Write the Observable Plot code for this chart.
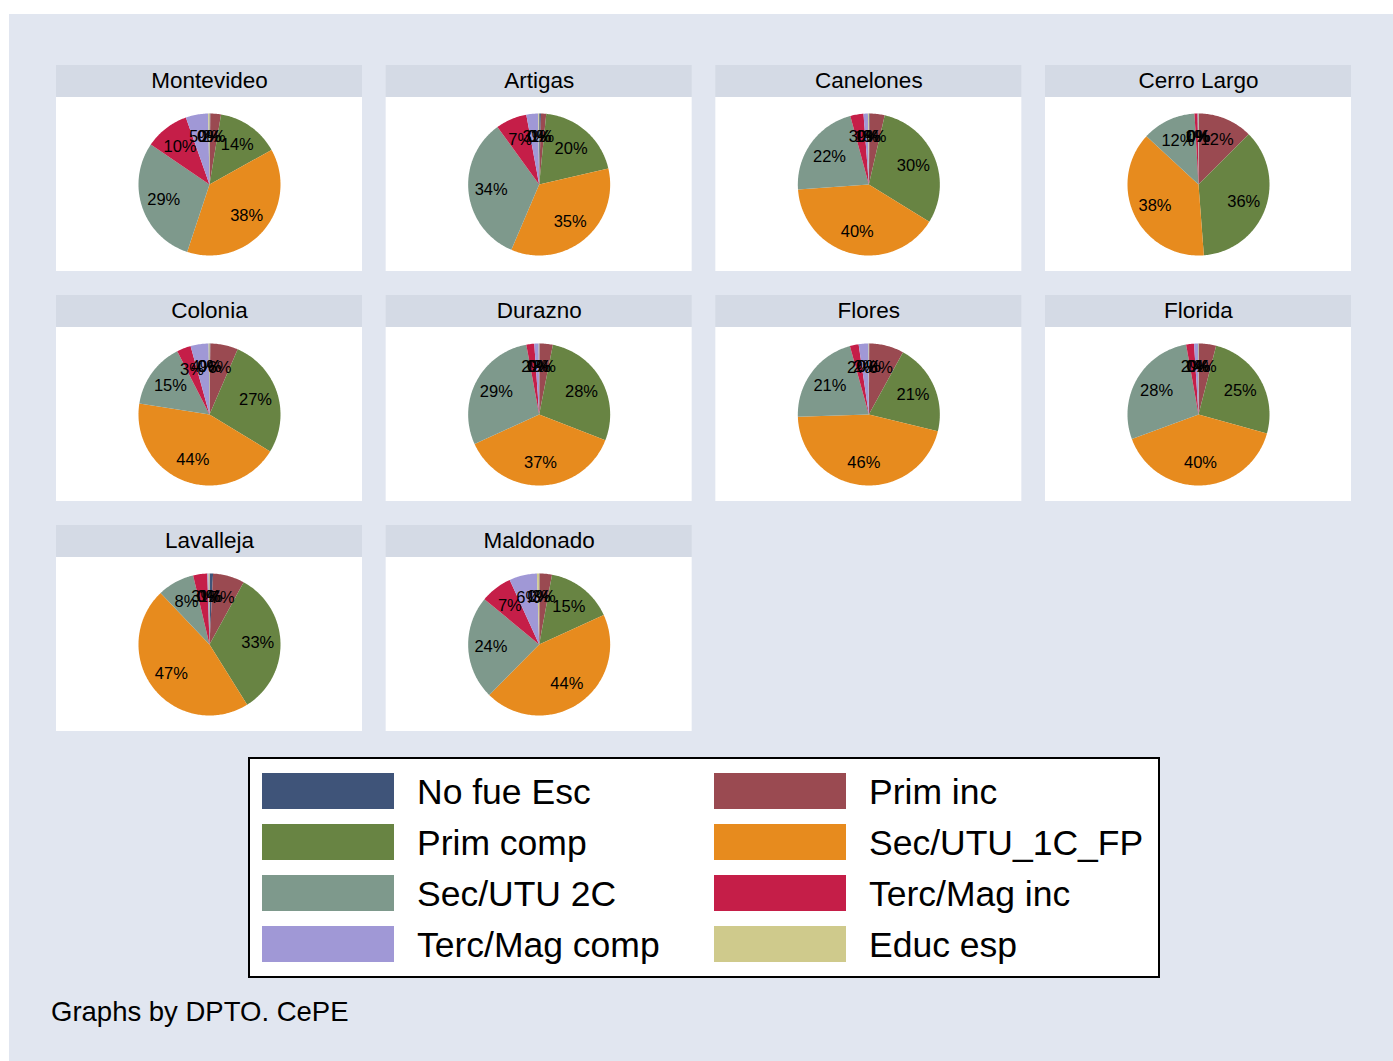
<!DOCTYPE html>
<html>
<head>
<meta charset="utf-8">
<script src="https://cdn.jsdelivr.net/npm/d3@7"></script>
<script src="https://cdn.jsdelivr.net/npm/@observablehq/plot@0.6"></script>
<style>
  html, body { margin: 0; padding: 0; background: #ffffff; }
  body { width: 1393px; height: 1061px; position: relative; overflow: hidden;
         font-family: "Liberation Sans", Arial, Helvetica, sans-serif; color: #000; }
  #bg { position: absolute; left: 9px; top: 14px; width: 1384px; height: 1047px; background: #E1E6F0; }
  #chart { position: absolute; left: 56px; top: 65px; }
  #legend { position: absolute; left: 248px; top: 757px; width: 908px; height: 217px;
            border: 2px solid #000; background: #fff; }
  .sw { position: absolute; width: 132px; height: 36px; box-sizing: border-box; }
  .lt { position: absolute; font-size: 35.5px; line-height: 36px; white-space: nowrap; }
  #caption { position: absolute; left: 51px; top: 996px; font-size: 27.5px; line-height: 32px; white-space: nowrap; }
</style>
</head>
<body>
<div id="bg"></div>
<div id="chart"></div>
<div id="legend"></div>
<div id="caption">Graphs by DPTO. CePE</div>
<script>
// ---- Data ----
const departamentos = ["Montevideo", "Artigas", "Canelones", "Cerro Largo", "Colonia",
                       "Durazno", "Flores", "Florida", "Lavalleja", "Maldonado"];
const categorias = ["No fue Esc", "Prim inc", "Prim comp", "Sec/UTU_1C_FP",
                    "Sec/UTU 2C", "Terc/Mag inc", "Terc/Mag comp", "Educ esp"];
const colores = ["#3F5479", "#9A4A51", "#688443", "#E78B1E",
                 "#7E998C", "#C51E48", "#A098D6", "#CFCA8C"];

// percentages per department, in category order
const montevideo = [0.2, 2.4, 14.3, 38.2, 29.4, 10.1, 5.1, 0.3];
const artigas    = [0.4, 1.2, 19.8, 35.0, 33.6, 7.1, 2.7, 0.2];
const canelones  = [0.2, 3.4, 30.2, 40.1, 21.9, 3.0, 1.0, 0.2];
const cerroLargo = [0.1, 12.4, 36.3, 38.1, 12.2, 0.7, 0.1, 0.1];
const colonia    = [0.2, 6.3, 27.2, 43.8, 15.0, 3.2, 4.1, 0.2];
const durazno    = [0.1, 3.0, 27.8, 37.3, 28.9, 1.8, 1.0, 0.1];
const flores     = [0.1, 7.9, 20.8, 45.7, 21.2, 2.0, 2.2, 0.1];
const florida    = [0.1, 3.9, 25.3, 40.1, 27.8, 1.8, 0.9, 0.1];
const lavalleja  = [0.8, 7.2, 33.1, 46.8, 8.4, 3.2, 0.3, 0.2];
const maldonado  = [0.1, 2.8, 15.3, 44.2, 23.6, 7.2, 6.3, 0.5];
const valores = [montevideo, artigas, canelones, cerroLargo, colonia,
                 durazno, flores, florida, lavalleja, maldonado];

// ---- Build geometry through d3.pie ----
const panels = departamentos.map((dep, i) => ({dep, col: i % 4, row: Math.floor(i / 4), values: valores[i]}));
const pts = [];
const labels = [];
for (const p of panels) {
  const arcs = d3.pie().sort(null).value(v => v)(p.values);
  arcs.forEach((a, j) => {
    const key = p.dep + "|" + j;
    const base = {key, cat: categorias[j], col: p.col, row: p.row};
    pts.push({...base, x: 0, y: 0});
    const n = Math.max(2, Math.ceil((a.endAngle - a.startAngle) / (Math.PI / 180)));
    for (let k = 0; k <= n; k++) {
      const t = a.startAngle + (a.endAngle - a.startAngle) * k / n;
      pts.push({...base, x: Math.sin(t), y: Math.cos(t)});
    }
    const m = (a.startAngle + a.endAngle) / 2;
    labels.push({col: p.col, row: p.row, x: 0.68 * Math.sin(m), y: 0.68 * Math.cos(m),
                 text: Math.round(a.data) + "%"});
  });
}

// ---- Layout (pixels per unit radius = 71) ----
const R = 71;
const XH = 153 / R;
const YB = -87 / R;
const YW = 87 / R;
const YT = (87 + 32) / R;

const chart = Plot.plot({
  width: 1295,
  height: 666,
  margin: 0,
  x: {domain: [-XH, XH], axis: null},
  y: {domain: [YB, YT], axis: null},
  fx: {axis: null, paddingInner: 23.67 / 329.67, paddingOuter: 0, round: false},
  fy: {axis: null, paddingInner: 24 / 230, paddingOuter: 0, round: false},
  color: {domain: categorias, range: colores},
  style: {background: "transparent", overflow: "visible", fontFamily: "'Liberation Sans', Arial, sans-serif"},
  marks: [
    Plot.rect(panels, {x1: -XH, x2: XH, y1: YB, y2: YW, fill: "white", fx: "col", fy: "row"}),
    Plot.rect(panels, {x1: -XH, x2: XH, y1: YW, y2: YT, fill: "#D4DAE5", fx: "col", fy: "row"}),
    Plot.text(panels, {x: 0, y: (YW + YT) / 2 + 0.015, text: "dep", fontSize: 22.5, fill: "#000", fx: "col", fy: "row"}),
    Plot.line(pts, {x: "x", y: "y", z: "key", fill: "cat", stroke: "none", curve: "linear", fx: "col", fy: "row"}),
    Plot.text(labels, {x: "x", y: "y", text: "text", fontSize: 16.5, fill: "#000", fx: "col", fy: "row"})
  ]
});
document.getElementById("chart").appendChild(chart);

// ---- Legend ----
const legend = d3.select("#legend");
categorias.forEach((c, j) => {
  const col = j % 2, row = Math.floor(j / 2);
  const left = 12 + col * 452, top = 14 + row * 51;
  legend.append("div").attr("class", "sw")
    .style("left", left + "px").style("top", top + "px")
    .style("background", colores[j]);
  legend.append("div").attr("class", "lt")
    .style("left", (left + 155) + "px").style("top", (top + 1) + "px")
    .text(c);
});
</script>
</body>
</html>
